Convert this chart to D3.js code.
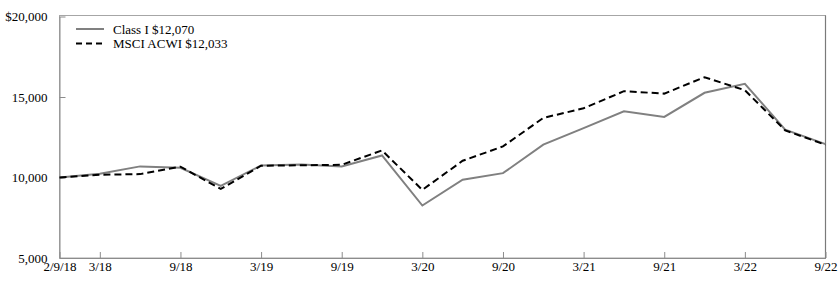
<!DOCTYPE html>
<html>
<head>
<meta charset="utf-8">
<script src="https://cdn.jsdelivr.net/npm/d3@7"></script>
<style>
  html, body { margin: 0; padding: 0; background: #fff; }
  svg { display: block; }
  text { font-family: "Liberation Serif", "Times New Roman", serif; font-size: 13px; fill: #000; }
</style>
</head>
<body>
<svg id="chart" width="840" height="287"></svg>
<script>
const dates = ["2/9/18","3/18","6/18","9/18","12/18","3/19","6/19","9/19","12/19","3/20",
               "6/20","9/20","12/20","3/21","6/21","9/21","12/21","3/22","6/22","9/22"];
const tickLabels = ["2/9/18","3/18","9/18","3/19","9/19","3/20","9/20","3/21","9/21","3/22","9/22"];
const classI = [10000,10230,10690,10600,9480,10750,10800,10690,11370,8260,
                9860,10270,12040,13070,14110,13760,15260,15820,12970,12070];
const msci   = [10000,10170,10210,10670,9290,10730,10760,10790,11680,9230,
                11040,11930,13700,14300,15360,15210,16230,15420,12930,12033];
const yTicks = [5000,10000,15000,20000];
const seriesNames = ["Class I $12,070","MSCI ACWI $12,033"];

const svg = d3.select("#chart");
const L = 59.5, R = 825.5, T = 15.5, B = 258;
const x = d3.scalePoint().domain(dates).range([L, R]);
const y = d3.scaleLinear().domain([5000, 20000]).range([B, 16.5]);

const axisColor = "#8c8c8c";

// frame
svg.append("rect").attr("x", L).attr("y", T).attr("width", R - L).attr("height", B - T)
  .attr("fill", "none").attr("stroke", "#a6a6a6").attr("stroke-width", 1);
svg.append("line").attr("x1", R).attr("x2", R).attr("y1", T).attr("y2", B)
  .attr("stroke", "#7a7a7a").attr("stroke-width", 1.2);

// y axis
const yAxis = svg.append("g").attr("transform", `translate(${L},0)`)
  .call(d3.axisLeft(y).tickValues(yTicks).tickSizeInner(-6).tickSizeOuter(0).tickPadding(12)
    .tickFormat((d, i) => (d === 20000 ? "$" : "") + d3.format(",")(d)));
yAxis.select(".domain").attr("stroke", axisColor);
yAxis.selectAll(".tick line").attr("stroke", axisColor);
yAxis.selectAll("text").style("font-family", "Liberation Serif").style("font-size", "13px").attr("fill", "#000");

// x axis
const xAxis = svg.append("g").attr("transform", `translate(0,${B})`)
  .call(d3.axisBottom(x).tickValues(tickLabels).tickSizeInner(-6).tickSizeOuter(0).tickPadding(4));
xAxis.select(".domain").attr("stroke", axisColor);
xAxis.selectAll(".tick line").attr("stroke", axisColor);
xAxis.selectAll("text").style("font-family", "Liberation Serif").style("font-size", "13px").attr("fill", "#000");

// lines
const line = d3.line().x((d, i) => x(dates[i])).y(d => y(d));
svg.append("path").datum(classI).attr("d", line)
  .attr("fill", "none").attr("stroke", "#808080").attr("stroke-width", 2);
svg.append("path").datum(msci).attr("d", line)
  .attr("fill", "none").attr("stroke", "#000").attr("stroke-width", 2)
  .attr("stroke-dasharray", "7,4");

// legend
const lg = svg.append("g");
const items = [
  {name: seriesNames[0], color: "#808080", dash: null, yy: 29},
  {name: seriesNames[1], color: "#000", dash: "6,4", yy: 43.5}
];
items.forEach(it => {
  lg.append("line").attr("x1", 76).attr("x2", 104).attr("y1", it.yy).attr("y2", it.yy)
    .attr("stroke", it.color).attr("stroke-width", 2)
    .attr("stroke-dasharray", it.dash);
  lg.append("text").attr("x", 113).attr("y", it.yy + 4.5).text(it.name);
});
</script>
</body>
</html>
